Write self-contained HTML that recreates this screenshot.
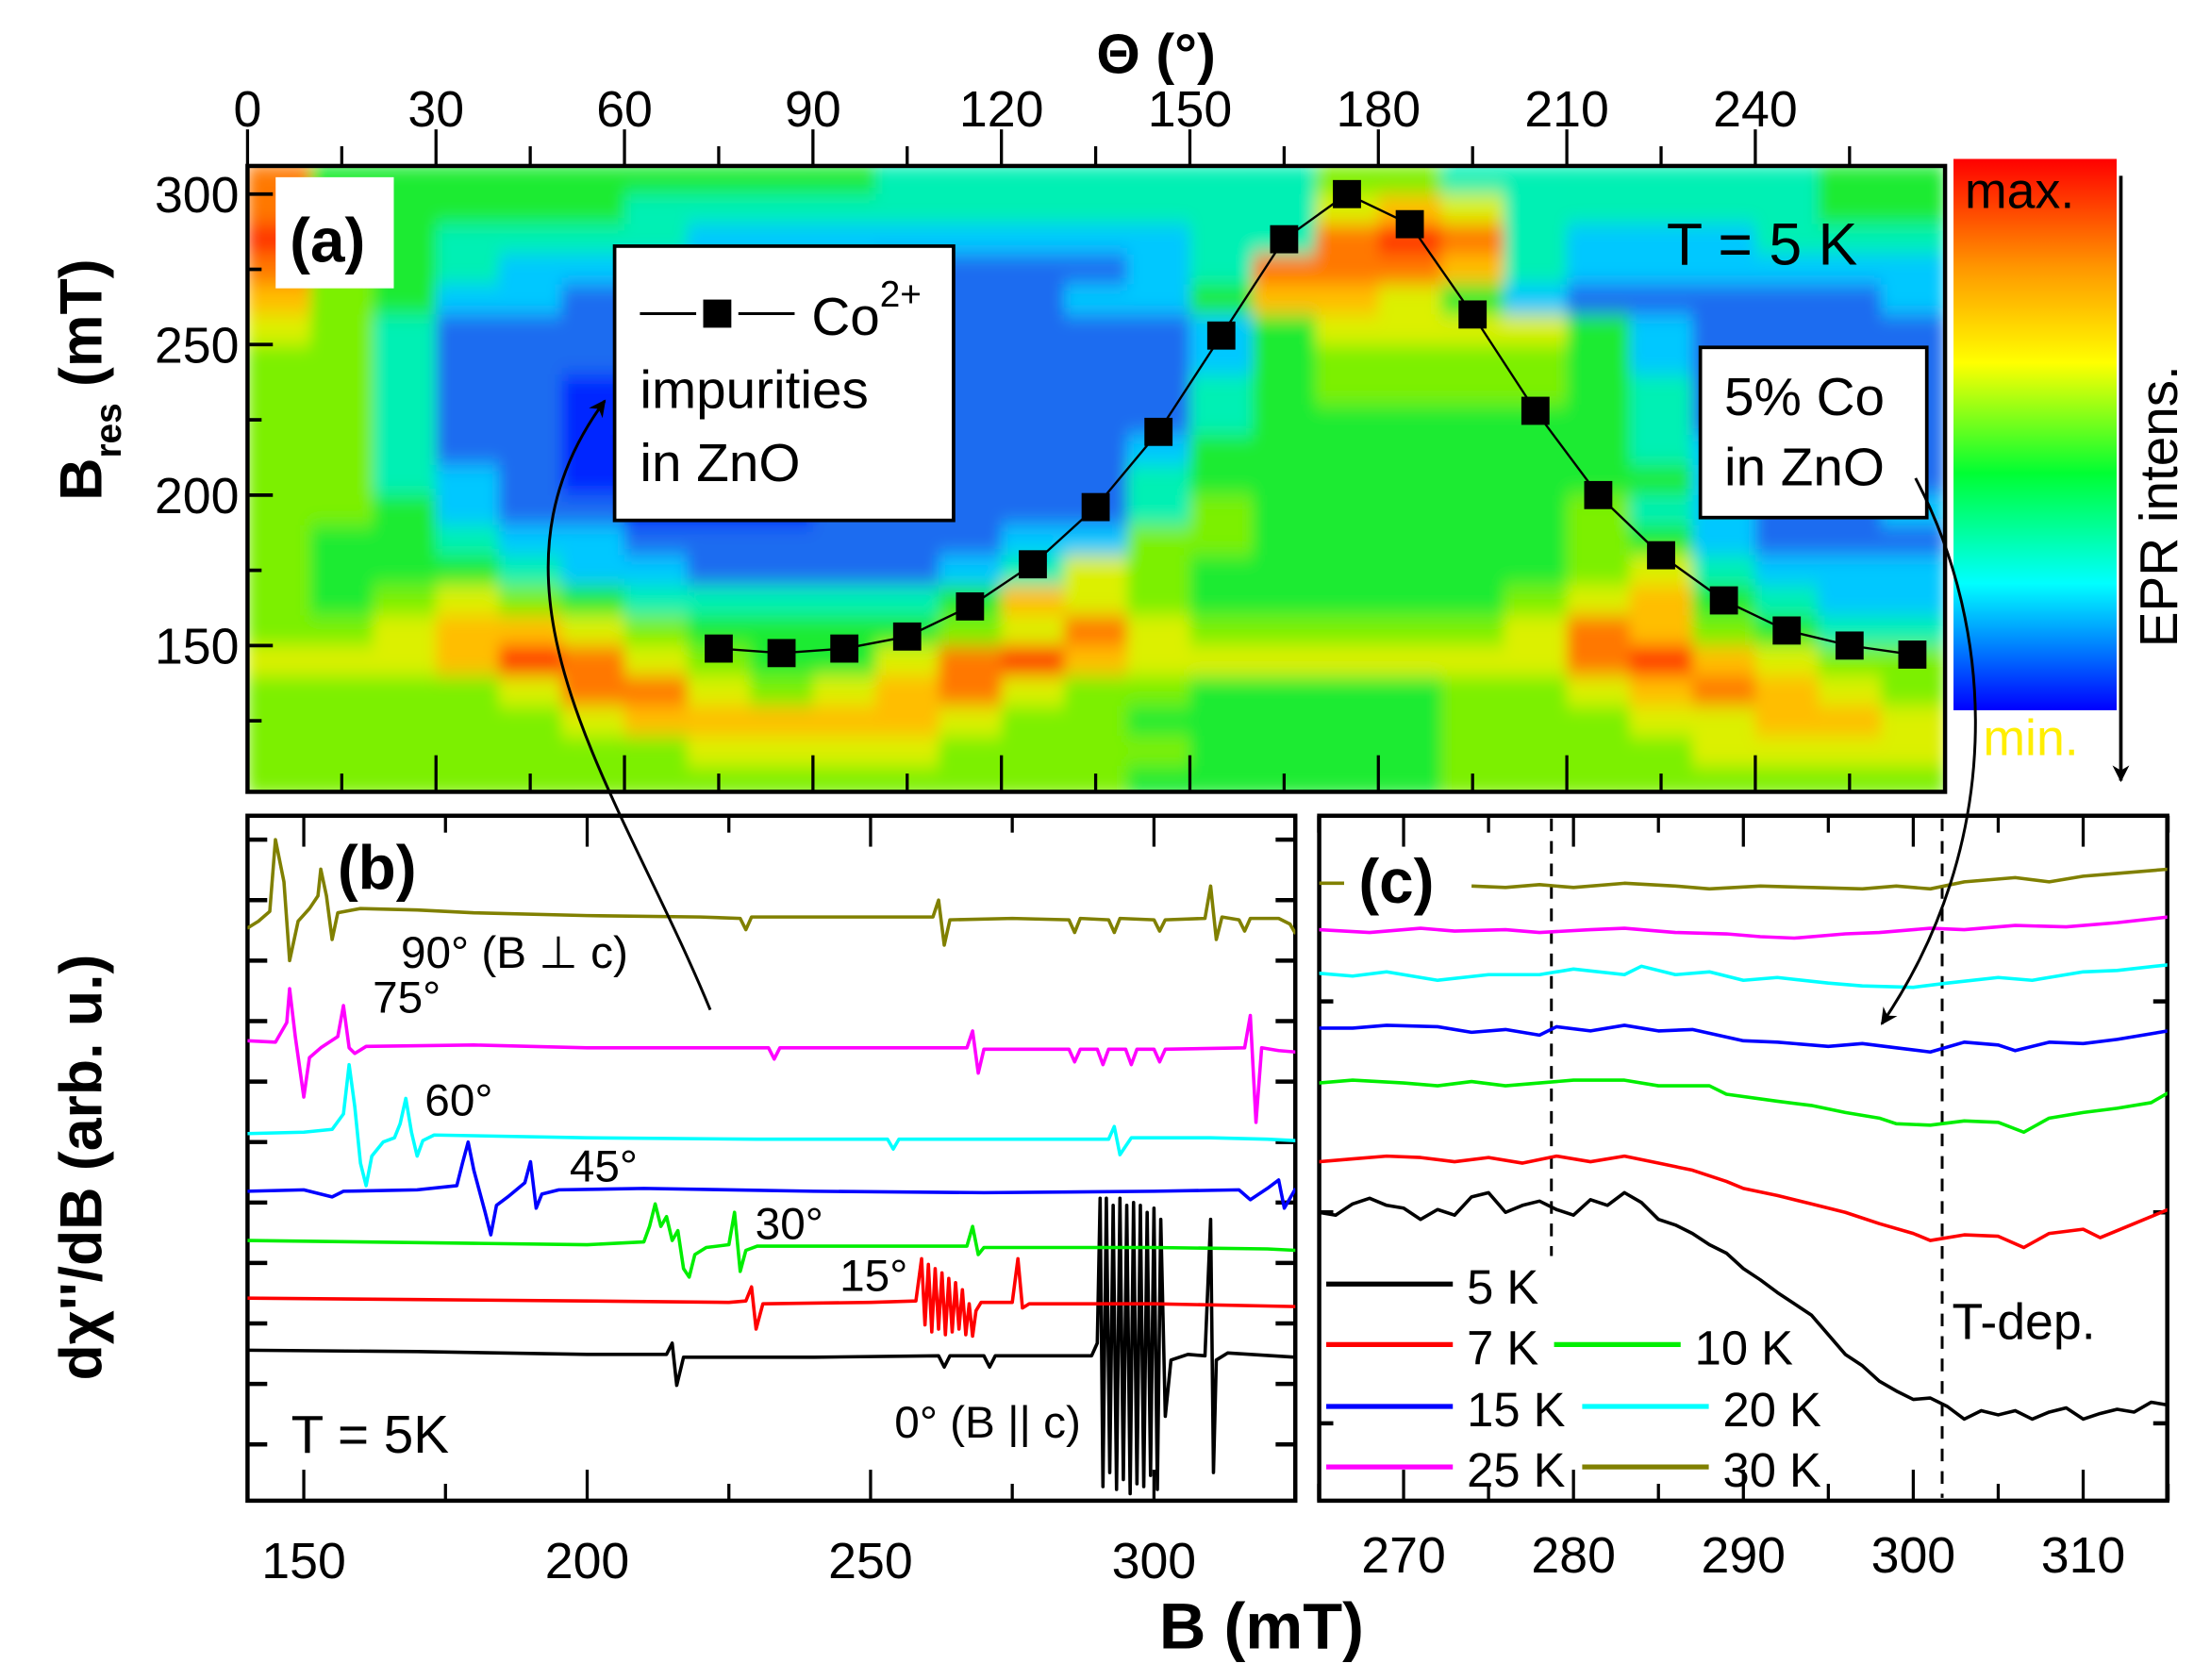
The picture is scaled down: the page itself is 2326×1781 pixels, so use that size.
<!DOCTYPE html>
<html><head><meta charset="utf-8">
<style>
html,body{margin:0;padding:0;background:#fff;}
svg{display:block;font-family:"Liberation Sans",sans-serif;}
</style></head>
<body>
<svg id="fig" xmlns="http://www.w3.org/2000/svg" width="2326" height="1781" viewBox="0 0 1560 1194.5" preserveAspectRatio="none">
<defs>
<clipPath id="clipA"><rect x="176" y="118" width="1207" height="445"/></clipPath>
<clipPath id="clipB"><rect x="176" y="580" width="745" height="487"/></clipPath>
<clipPath id="clipC"><rect x="938" y="580" width="603" height="487"/></clipPath>
<filter id="soft" x="0" y="0" width="1" height="1"><feGaussianBlur stdDeviation="5 7" edgeMode="duplicate"/></filter>
<linearGradient id="cbar" x1="0" y1="0" x2="0" y2="1">
<stop offset="0" stop-color="#ff0000"/><stop offset="0.2" stop-color="#ff9900"/>
<stop offset="0.37" stop-color="#ffff00"/><stop offset="0.57" stop-color="#00ff33"/>
<stop offset="0.77" stop-color="#00ffff"/><stop offset="1" stop-color="#0000ff"/>
</linearGradient>
<marker id="ah" markerWidth="12" markerHeight="12" refX="9" refY="5" orient="auto" markerUnits="userSpaceOnUse" viewBox="0 0 10 10"><path d="M0,0 L10,5 L0,10 L3,5 Z" fill="#000"/></marker>
</defs>
<g clip-path="url(#clipA)"><g id="heat" filter="url(#soft)"></g></g>
<g id="gA"></g>
<g id="gB"></g>
<g id="gC"></g>
<g id="gT"></g>
</svg>
<script>
// ---------- Panel (a) data ----------
const thetaCenters = [5,15,25,35,45,55,65,75,85,95,105,115,125,135,145,155,165,175,185,195,205,215,225,235,245,255,265];
const bRows = [305,295,285,275,265,255,245,235,225,215,205,195,185,175,165,155,145,135,125,115,105];
const heatLevels = [
"844444444433333335533333344",
"844444333333333336763333344",
"944333322222222338983222333",
"854322222211112388873222222",
"754221111111122477642111112",
"653111111111111246666421111",
"553111111111111245555421111",
"553110111111111345555431111",
"553110111111111344444431111",
"553110011111112444444432101",
"553210001111113444444442101",
"554211000111113544444532112",
"544322111111225544444542111",
"544432211112365444444563222",
"545654333334765444445674322",
"556776544445686555556875433",
"666798654468976666666897655",
"555568865678655444455678765",
"555556777776554444455566776",
"555555566665555444455556666",
"555555555555554444455555555"];
const coTheta = [75,85,95,105,115,125,135,145,155,165,175,185,195,205,215,225,235,245,255,265];
const coB = [149,147.5,149,153,163,177,196,221,253,285,300,290,260,228,200,180,165,155,150,147];
const thetaTicks = [0,30,60,90,120,150,180,210,240];
const bResTicks = [150,200,250,300];

// ---------- Panel (b) data ----------
const bTicksB = [150,200,250,300];
const trace90 = [[140,407],[142,412],[144,419],[145,470],[146.5,440],[147.5,384],[149,412],[151,421],[152.5,430],[153,449],[154,430],[155,399],[156,418],[160,421],[170,420],[180,418],[200,416],[220,415],[227,414],[228,406],[229,415],[250,415],[261,415],[262,427],[263,395],[264,413],[275,414],[285,413],[286,404],[287,414],[292,413],[293,404],[294,414],[300,413],[301,405],[302,413],[309,414],[310,437],[311,399],[312,415],[315,413],[316,405],[317,414],[322,414],[324,410],[325,403]];
const trace75 = [[140,327],[145,326],[147,340],[147.5,364],[148.5,330],[150,287],[151,315],[153,322],[156,330],[157,352],[158,322],[159,318],[161,323],[180,324],[200,322],[232,322],[233,314],[234,322],[250,322],[267,322],[268,334],[269,304],[270,321],[285,321],[286,312],[287,321],[290,321],[291,310],[292,321],[295,321],[296,310],[297,321],[300,321],[301,312],[302,321],[316,322],[317,345],[318,269],[319,322],[322,320],[325,319]];
const trace60 = [[140,261],[150,262],[155,264],[157,275],[158,310],[159,280],[160,240],[161,224],[162,245],[164,255],[166,258],[167,268],[168,286],[169,262],[170,245],[171,256],[173,260],[200,258],[230,257],[253,257],[254,250],[255,257],[280,257],[292,257],[293,266],[294,246],[295,252],[296,258],[310,258],[320,257],[325,256]];
const trace45 = [[140,220],[150,221],[155,216],[157,220],[170,221],[177,224],[178,240],[179,255],[180,235],[182,205],[183,189],[184,210],[186,216],[189,226],[190,241],[191,208],[192,218],[195,221],[210,222],[240,220],[270,219],[300,220],[315,221],[317,214],[320,222],[322,228],[323,208],[325,222]];
const trace30 = [[140,185],[160,184],[180,183],[200,182],[210,184],[211,195],[212,211],[213,195],[214,202],[215,185],[216,192],[217,165],[218,159],[219,175],[221,180],[225,182],[226,205],[227,163],[228,178],[230,181],[250,181],[267,181],[268,195],[269,175],[270,180],[290,180],[300,180],[320,179],[325,178]];
const trace15 = [[140,144],[170,143],[200,142],[225,141],[228,142],[229,152],[229.8,122],[231,140],[250,141],[258,142],[259,172],[259.6,125],[260.2,168],[260.8,120],[261.4,165],[262,122],[262.6,162],[263.2,118],[263.8,158],[264.4,120],[265,155],[265.6,122],[266.2,150],[266.8,118],[267.4,140],[268,117],[268.6,135],[269.5,141],[275,141],[276,172],[276.8,137],[278,140],[300,140],[325,138]];
const trace0 = [[140,107],[170,106],[200,104],[214,104],[215,112],[215.8,82],[217,102],[240,102],[262,103],[263,95],[264,103],[270,103],[271,95],[272,103],[289,103],[290,112],[290.5,215],[291,10],[291.6,215],[292.2,20],[292.8,210],[293.4,8],[294,215],[294.6,15],[295.2,210],[295.8,5],[296.4,212],[297,12],[297.6,210],[298.2,10],[298.8,205],[299.4,18],[300,208],[300.6,8],[301.2,200],[302,60],[303,100],[306,104],[309,103],[310,200],[310.5,20],[311,100],[313,105],[325,102]];

// ---------- Panel (c) data ----------
const cTicksB = [270,280,290,300,310];
const c30a = [[265,439],[266.5,439]];
const c30 = [[274,437],[276,436],[278,438],[280,436],[283,439],[286,437],[288,435],[291,437],[294,436],[297,435],[299,437],[301,435],[303,440],[306,443],[308,440],[310,444],[312,446],[315,449]];
const c25 = [[265,406],[268,404],[271,407],[273,405],[276,406],[278,404],[281,406],[283,407],[286,404],[289,403],[291,401],[293,400],[296,403],[298,404],[301,407],[303,406],[306,409],[309,408],[312,411],[315,415]];
const c20 = [[265,375],[267,373],[269,376],[272,370],[275,374],[278,374],[280,378],[283,374],[284,380],[286,374],[288,376],[290,370],[292,372],[295,368],[297,366],[300,365],[302,368],[305,372],[307,370],[310,376],[312,377],[315,381]];
const c15 = [[265,336],[267,336],[269,338],[272,337],[274,333],[276,335],[278,331],[279,337],[281,334],[283,338],[285,334],[287,335],[290,327],[292,326],[295,323],[297,325],[299,322],[301,319],[303,326],[305,324],[306,320],[308,326],[310,325],[312,328],[315,334]];
const c10 = [[265,297],[267,299],[270,297],[272,295],[274,298],[276,295],[278,297],[280,299],[283,299],[285,295],[288,295],[289,289],[292,284],[294,281],[296,276],[298,272],[299,268],[301,267],[303,270],[305,269],[306.5,262],[308,272],[310,276],[312,279],[314,283],[315,290]];
const c7 = [[265,241],[267,243],[269,245],[271,244],[273,241],[275,244],[277,240],[279,245],[281,241],[283,245],[285,240],[287,235],[289,227],[290,222],[292,217],[294,211],[296,205],[298,197],[300,190],[301,185],[303,189],[305,188],[306.5,180],[308,190],[310,193],[311,187],[313,197],[315,207]];
const c5 = [[265,205],[266,203],[267,211],[268,215],[269,210],[270,208],[271,200],[272,207],[273,203],[274,216],[275,219],[276,205],[277,210],[278,213],[279,207],[280,203],[281,214],[282,210],[283,219],[284,212],[285,200],[286,196],[287,190],[288,182],[289,176],[290,165],[291,157],[292,148],[293,140],[294,132],[295,118],[296,104],[297,96],[298,85],[299,78],[300,72],[301,73],[302,67],[303,58],[304,64],[305,61],[306,64],[307,58],[308,63],[309,66],[310,58],[311,62],[312,65],[313,63],[314,70],[315,68]];
const dashedB = [278.7,301.7];

// ---------- axes ----------
const xa = t => 176 + t*4.467;
const ya = b => 459 - (b-150)*2.14;
const xb = b => 216 + (b-150)*4.03;
const yb = u => 1067 - u;
const xc = b => 998 + (b-270)*12.08;
const yc = u => 1067 - u;

const NS="http://www.w3.org/2000/svg";
function el(tag,parent){const e=document.createElementNS(NS,tag);parent.appendChild(e);return e;}
function set(e,o){for(const k in o)e.setAttribute(k,o[k]);return e;}
const palette=["#0028ff","#1a6cf0","#00c8ff","#00f0b4","#1eeb32","#7cf000","#dcf000","#ffbe00","#ff7800","#ff3200"];

const heat=document.getElementById('heat');
const gA=document.getElementById('gA'),gB=document.getElementById('gB'),gC=document.getElementById('gC'),gT=document.getElementById('gT');

// heatmap cells
bRows.forEach((b,ri)=>{
  thetaCenters.forEach((t,ci)=>{
    const r=el('rect',heat);
    
    
    const x0=xa(t-5),x1=xa(t+5),y0=ya(b+5),y1=ya(b-5);
    set(r,{x:x0,y:y0,width:x1-x0+0.6,height:y1-y0+0.6,fill:palette[+heatLevels[ri][ci]]});
  });
});

function line(p,x1,y1,x2,y2,w,c,dash){const l=el('line',p);set(l,{x1,y1,x2,y2,stroke:c||'#000','stroke-width':w||2});if(dash)l.setAttribute('stroke-dasharray',dash);return l;}
function text(p,x,y,s,size,opts){const t=el('text',p);set(t,{x,y,'font-size':size});if(opts)set(t,opts);t.textContent=s;return t;}

// panel a frame
const fa=el('rect',gA);


set(fa,{x:176,y:118,width:1207,height:445,fill:'none',stroke:'#000','stroke-width':3});
for(let t=0;t<=265;t+=15){
  const major=t%30===0;
  const tk=line(gA,xa(t),118,xa(t),major?92:104,2.2);
  
  
  const tb=line(gA,xa(t),563,xa(t),major?537:550,2.2);
  
  
}
thetaTicks.forEach(t=>{
  const tl=text(gA,xa(t),90,String(t),36,{'text-anchor':'middle'});
  
  
});
for(let b=125;b<=300;b+=25){
  const major=b%50===0;
  const tk=line(gA,176,ya(b),major?194:186,ya(b),2.5);
  
  
}
bResTicks.forEach(b=>{
  const tl=text(gA,170,ya(b)+13,String(b),36,{'text-anchor':'end'});
  
  
});
// Co points
const coLine=el('polyline',gA);


set(coLine,{points:coTheta.map((t,i)=>xa(t)+','+ya(coB[i])).join(' '),fill:'none',stroke:'#000','stroke-width':1.6});
coTheta.forEach((t,i)=>{
  const s=el('rect',gA);
  
  
  set(s,{x:xa(t)-10,y:ya(coB[i])-10,width:20,height:20,fill:'#000'});
});
// colorbar
const cb=el('rect',gA);


set(cb,{x:1389,y:113,width:116,height:392,fill:'url(#cbar)'});
const cbl=line(gA,1508,125,1508,555,2.5);


cbl.setAttribute('marker-end','url(#ah)');

// panel b
const fb=el('rect',gB);


set(fb,{x:176,y:580,width:745,height:487,fill:'none',stroke:'#000','stroke-width':3});
for(let b=150;b<=325;b+=25){
  const major=b%50===0;
  const t1=line(gB,xb(b),1067,xb(b),major?1045:1055,2.2);
  
  
  const t2=line(gB,xb(b),580,xb(b),major?602:592,2.2);
  
  
}
bTicksB.forEach(b=>{
  const tl=text(gB,xb(b),1122,String(b),36,{'text-anchor':'middle'});
  
  
});
for(let u=470;u>0;u-=43){
  const l1=line(gB,176,yb(u),190,yb(u),3);
  
  
  const l2=line(gB,921,yb(u),907,yb(u),3);
  
  
}
const bTraces=[[trace0,'#000000','trace-0deg'],[trace15,'#ff0000','trace-15deg'],[trace30,'#00ee00','trace-30deg'],[trace45,'#0000ff','trace-45deg'],[trace60,'#00ffff','trace-60deg'],[trace75,'#ff00ff','trace-75deg'],[trace90,'#808000','trace-90deg']];
const gBc=el('g',gB);gBc.setAttribute('clip-path','url(#clipB)');
bTraces.forEach(([d,c,n])=>{
  const p=el('polyline',gBc);
  
  
  set(p,{points:d.map(q=>xb(q[0])+','+yb(q[1])).join(' '),fill:'none',stroke:c,'stroke-width':2.4,'stroke-linejoin':'round'});
});

// panel c
const fc=el('rect',gC);


set(fc,{x:938,y:580,width:603,height:487,fill:'none',stroke:'#000','stroke-width':3});
for(let b=265;b<=315;b+=5){
  const major=b%10===0;
  const t1=line(gC,xc(b),1067,xc(b),major?1045:1055,2.2);
  
  
  const t2=line(gC,xc(b),580,xc(b),major?602:592,2.2);
  
  
}
cTicksB.forEach(b=>{
  const tl=text(gC,xc(b),1118,String(b),36,{'text-anchor':'middle'});
  
  
});
[355,205,55].forEach(u=>{
  const l1=line(gC,938,yc(u),948,yc(u),3);
  
  
  const l2=line(gC,1541,yc(u),1531,yc(u),3);
  
  
});
dashedB.forEach(b=>{
  const d=line(gC,xc(b),582,xc(b),b<290?893:1065,2,'#000','9,7');
  
  
});
const cTraces=[[c5,'#000000','trace-5k'],[c7,'#ff0000','trace-7k'],[c10,'#00ee00','trace-10k'],[c15,'#0000ff','trace-15k'],[c20,'#00ffff','trace-20k'],[c25,'#ff00ff','trace-25k'],[c30,'#808000','trace-30k'],[c30a,'#808000','trace-30k-start']];
const gCc=el('g',gC);gCc.setAttribute('clip-path','url(#clipC)');
cTraces.forEach(([d,c,n])=>{
  const p=el('polyline',gCc);
  
  
  set(p,{points:d.map(q=>xc(q[0])+','+yc(q[1])).join(' '),fill:'none',stroke:c,'stroke-width':2.4,'stroke-linejoin':'round'});
});
// legend c
const leg=[[943,1033,915,'#000','5 K',1043],[943,1033,958,'#ff0000','7 K',1043],[1105,1195,958,'#00ee00','10 K',1205],[943,1033,1002,'#0000ff','15 K',1043],[1125,1215,1002,'#00ffff','20 K',1225],[943,1033,1045,'#ff00ff','25 K',1043],[1125,1215,1045,'#808000','30 K',1225]];
leg.forEach(([x1,x2,y,c,s,tx])=>{
  const l=line(gC,x1,y-2,x2,y-2,3.5,c);
  
  
  const t=text(gC,tx,y+12,s,34);
  
  
});
</script>
<script>
// static annotations
(function(){
const NS="http://www.w3.org/2000/svg",g=document.getElementById('gT');
function add(tag,attrs,txt,name){const e=document.createElementNS(NS,tag);for(const k in attrs)e.setAttribute(k,attrs[k]);if(txt!=null)e.textContent=txt;g.appendChild(e);return e;}
add('text',{x:822,y:52,'font-size':40,'font-weight':'bold','text-anchor':'middle'},'Θ (°)','theta-axis-title');
const yt=add('text',{x:0,y:0,'font-size':42,'font-weight':'bold',transform:'translate(72,270) rotate(-90)','text-anchor':'middle'},null,'bres-axis-title');
yt.innerHTML='B<tspan font-size="26" dy="14">res</tspan><tspan dy="-14"> (mT)</tspan>';
add('text',{x:0,y:0,'font-size':42,'font-weight':'bold',transform:'translate(72,830) rotate(-90)','text-anchor':'middle'},'dχ\'\'/dB (arb. u.)','b-panel-y-title');
add('text',{x:897,y:1172,'font-size':46,'font-weight':'bold','text-anchor':'middle'},'B (mT)','b-axis-title');
add('text',{x:0,y:0,'font-size':38,transform:'translate(1548,360) rotate(-90)','text-anchor':'middle'},'EPR intens.','colorbar-title');
add('text',{x:1397,y:148,'font-size':36},'max.','colorbar-max-label');
add('text',{x:1410,y:537,'font-size':36,fill:'#ffee00'},'min.','colorbar-min-label');
add('rect',{x:196,y:126,width:84,height:79,fill:'#fff'},null,'label-a-box');
add('text',{x:206,y:186,'font-size':44,'font-weight':'bold'},'(a)','panel-a-label');
add('text',{x:1185,y:188,'font-size':42},'T = 5 K','temperature-label-a');
add('rect',{x:437,y:175,width:241,height:195,fill:'#fff',stroke:'#000','stroke-width':2.5},null,'co-legend-box');
add('line',{x1:455,y1:223,x2:495,y2:223,stroke:'#000','stroke-width':2},null,'co-legend-line-left');
add('rect',{x:500,y:213,width:20,height:20,fill:'#000'},null,'co-legend-marker');
add('line',{x1:525,y1:223,x2:565,y2:223,stroke:'#000','stroke-width':2},null,'co-legend-line-right');
const co=add('text',{x:577,y:238,'font-size':38},null,'co-legend-label');
co.innerHTML='Co<tspan font-size="26" dy="-20">2+</tspan>';
add('text',{x:455,y:290,'font-size':38},'impurities','co-legend-text-1');
add('text',{x:455,y:342,'font-size':38},'in ZnO','co-legend-text-2');
add('rect',{x:1209,y:247,width:161,height:121,fill:'#fff',stroke:'#000','stroke-width':2.5},null,'co5-box');
add('text',{x:1226,y:295,'font-size':38},'5% Co','co5-text-1');
add('text',{x:1226,y:345,'font-size':38},'in ZnO','co5-text-2');
add('path',{d:'M505,718 C440,560 330,420 430,285',fill:'none',stroke:'#000','stroke-width':2,'marker-end':'url(#ah)'},null,'arrow-to-impurities');
add('path',{d:'M1362,340 C1420,450 1425,600 1338,728',fill:'none',stroke:'#000','stroke-width':2,'marker-end':'url(#ah)'},null,'arrow-to-panel-c');
add('text',{x:240,y:632,'font-size':44,'font-weight':'bold'},'(b)','panel-b-label');
add('text',{x:966,y:642,'font-size':44,'font-weight':'bold'},'(c)','panel-c-label');
add('text',{x:285,y:688,'font-size':32},'90° (B ⊥ c)','label-90deg');
add('text',{x:265,y:720,'font-size':32},'75°','label-75deg');
add('text',{x:302,y:793,'font-size':32},'60°','label-60deg');
add('text',{x:405,y:840,'font-size':32},'45°','label-45deg');
add('text',{x:537,y:881,'font-size':32},'30°','label-30deg');
add('text',{x:597,y:918,'font-size':32},'15°','label-15deg');
add('text',{x:636,y:1022,'font-size':32},'0° (B || c)','label-0deg');
add('text',{x:207,y:1033,'font-size':38},'T = 5K','temperature-label-b');
add('text',{x:1388,y:952,'font-size':36},'T-dep.','t-dep-label');
})();
</script>
</body></html>
